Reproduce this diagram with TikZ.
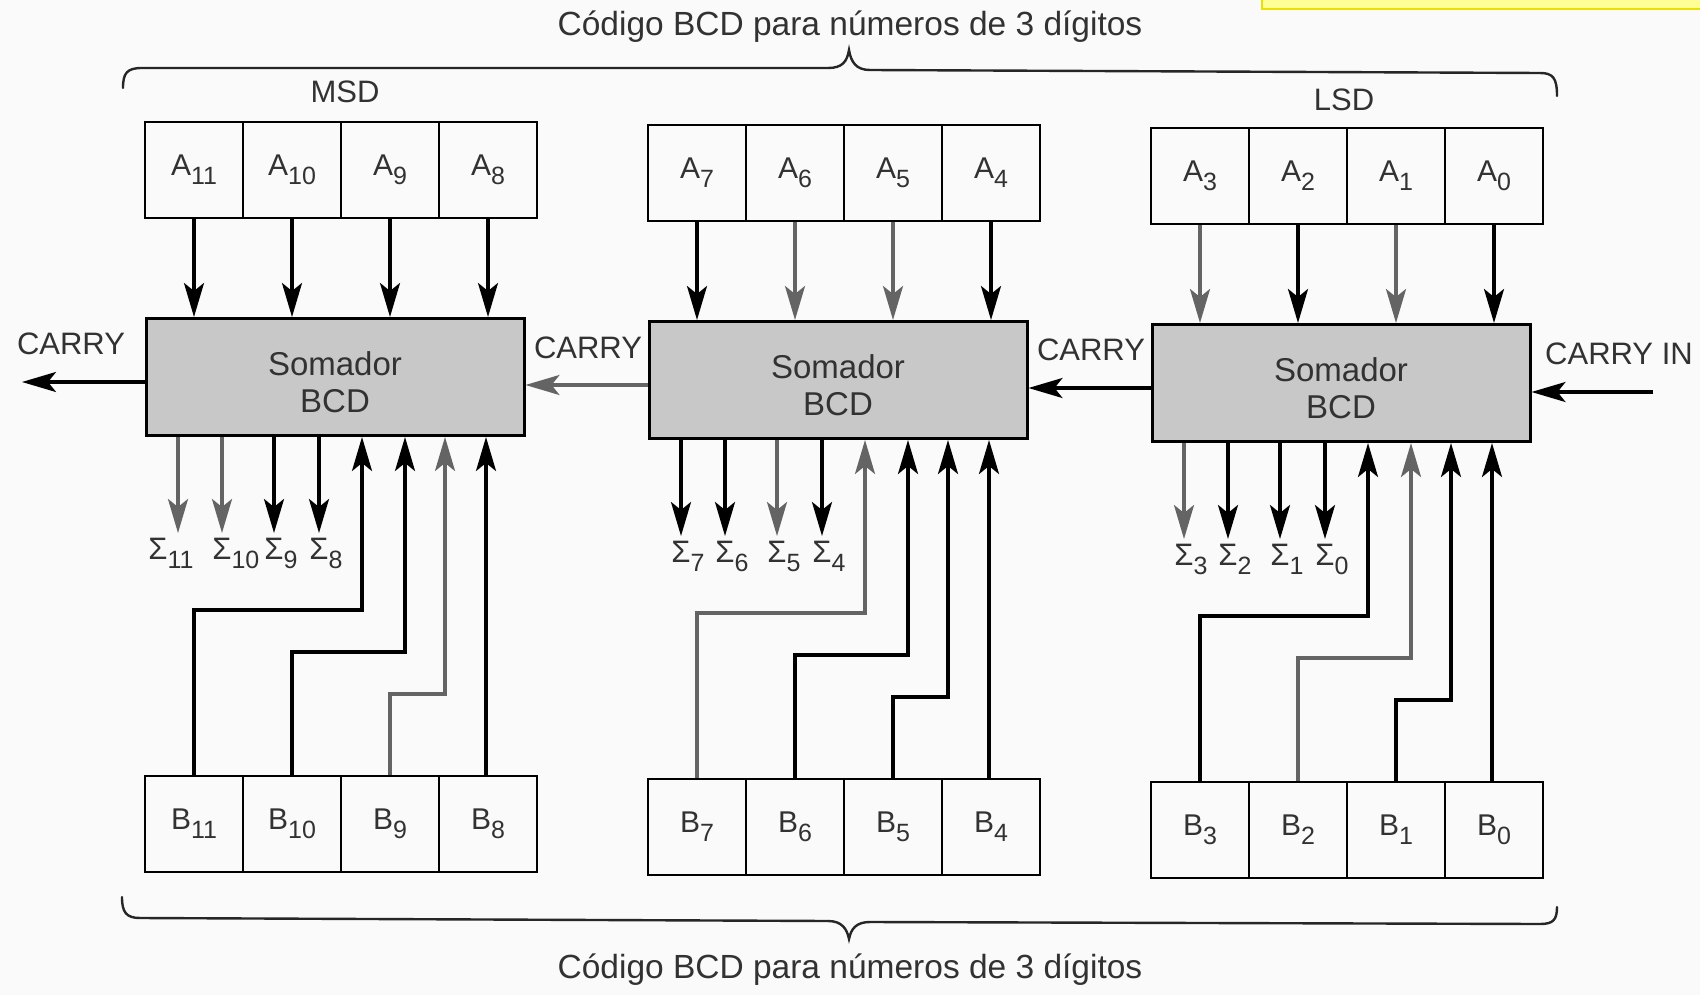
\documentclass[tikz,border=0pt]{standalone}
\usepackage{fontspec}
\setmainfont{Liberation Sans}
\usetikzlibrary{arrows.meta}
\definecolor{bg}{RGB}{250,250,250}
\definecolor{txt}{RGB}{50,50,50}
\definecolor{addfill}{RGB}{200,200,200}
\definecolor{garr}{RGB}{100,100,100}
\definecolor{ylw}{RGB}{255,255,150}
\definecolor{ylwb}{RGB}{235,225,0}
\newcommand\subs[1]{\raisebox{-0.3em}{\fontsize{25}{25}\selectfont #1}}
\begin{document}
\begin{tikzpicture}[x=1pt,y=-1pt,
  cell/.style={draw=black,line width=2.8pt,minimum width=98pt,minimum height=96pt,inner sep=0pt,font=\fontsize{30}{30}\selectfont,text=txt},
  adder/.style={draw=black,line width=3pt,fill=addfill,minimum width=378pt,minimum height=117pt,inner sep=0pt},
  addtext/.style={align=center,inner sep=0pt,font=\fontsize{33}{37}\selectfont,text=txt},
  wire/.style={line width=3.2pt},
  arr/.style={wire,-{Stealth[length=34pt,width=20pt,inset=8pt]}},
  lbl/.style={inner sep=0pt,text=txt,font=\fontsize{31}{31}\selectfont},
  ttl/.style={inner sep=0pt,text=txt,font=\fontsize{33.5}{33.5}\selectfont},
  brace/.style={line width=2.4pt,draw=black!85,line cap=round}
]
\useasboundingbox (0,0) rectangle (1700,995);
\fill[bg] (0,0) rectangle (1700,995);
\fill[ylw,draw=ylwb,line width=2pt] (1262,-3) rectangle (1703,9);

\foreach \k/\xo/\dy/\ia/\ib/\ic/\id/\ca/\cb/\cc/\cd/\sa/\sb/\sc/\sd/\ba/\bb/\bc/\bd/\xs in {
 M/145/0/11/10/9/8/black/black/black/black/garr/garr/black/black/black/black/garr/black/-20,
 D/648/3/7/6/5/4/black/garr/garr/black/black/black/garr/black/garr/black/black/black/0,
 L/1151/6/3/2/1/0/garr/black/garr/black/garr/black/black/black/black/garr/black/black/0}
{
 \node[cell] (\k-A1) at (\xo+49,170+\dy) {A\subs{\ia}};
 \node[cell] (\k-A2) at (\xo+147,170+\dy) {A\subs{\ib}};
 \node[cell] (\k-A3) at (\xo+245,170+\dy) {A\subs{\ic}};
 \node[cell] (\k-A4) at (\xo+343,170+\dy) {A\subs{\id}};
 \node[cell] (\k-B1) at (\xo+49,824+\dy) {B\subs{\ia}};
 \node[cell] (\k-B2) at (\xo+147,824+\dy) {B\subs{\ib}};
 \node[cell] (\k-B3) at (\xo+245,824+\dy) {B\subs{\ic}};
 \node[cell] (\k-B4) at (\xo+343,824+\dy) {B\subs{\id}};
 \node[adder] (\k-S) at (\xo+190,377+\dy) {};
 \node[addtext] (\k-T) at (\xo+190,382+\dy) {Somador\\BCD};
 % A inputs
 \draw[arr,draw=\ca] (\k-A1.south) -- (\k-A1.south |- \k-S.north);
 \draw[arr,draw=\cb] (\k-A2.south) -- (\k-A2.south |- \k-S.north);
 \draw[arr,draw=\cc] (\k-A3.south) -- (\k-A3.south |- \k-S.north);
 \draw[arr,draw=\cd] (\k-A4.south) -- (\k-A4.south |- \k-S.north);
 % sum outputs
 \coordinate (\k-s1) at (\xo+33,533+\dy);
 \coordinate (\k-s2) at (\xo+77,533+\dy);
 \coordinate (\k-s3) at (\xo+129,533+\dy);
 \coordinate (\k-s4) at (\xo+174,533+\dy);
 \draw[arr,draw=\sa] (\k-s1 |- \k-S.south) -- (\k-s1);
 \draw[arr,draw=\sb] (\k-s2 |- \k-S.south) -- (\k-s2);
 \draw[arr,draw=\sc] (\k-s3 |- \k-S.south) -- (\k-s3);
 \draw[arr,draw=\sd] (\k-s4 |- \k-S.south) -- (\k-s4);
 \node[lbl,anchor=north] (\k-L1) at ([xshift=\xs pt,yshift=-5pt]\k-s1) {Σ\rlap{\subs{\ia}}};
 \node[lbl,anchor=north] (\k-L2) at ([yshift=-5pt]\k-s2) {Σ\rlap{\subs{\ib}}};
 \node[lbl,anchor=north] (\k-L3) at ([yshift=-5pt]\k-s3) {Σ\rlap{\subs{\ic}}};
 \node[lbl,anchor=north] (\k-L4) at ([yshift=-5pt]\k-s4) {Σ\rlap{\subs{\id}}};
 % B inputs
 \coordinate (\k-r1) at (\xo+217,610+\dy);
 \coordinate (\k-r2) at (\xo+260,652+\dy);
 \coordinate (\k-r3) at (\xo+300,694+\dy);
 \draw[arr,draw=\ba] (\k-B1.north) -- (\k-B1.north |- \k-r1) -- (\k-r1) -- (\k-r1 |- \k-S.south);
 \draw[arr,draw=\bb] (\k-B2.north) -- (\k-B2.north |- \k-r2) -- (\k-r2) -- (\k-r2 |- \k-S.south);
 \draw[arr,draw=\bc] (\k-B3.north) -- (\k-B3.north |- \k-r3) -- (\k-r3) -- (\k-r3 |- \k-S.south);
 \draw[arr,draw=\bd] ([xshift=-2pt]\k-B4.north) -- ([xshift=-2pt]\k-B4.north |- \k-S.south);
}

% carries
\coordinate (cout) at (22,382);
\coordinate (cin) at (1653,392);
\draw[arr] ([yshift=-5pt]M-S.west) -- (cout);
\draw[arr,draw=garr] ([yshift=-5pt]D-S.west) -- ([yshift=-5pt]D-S.west -| M-S.east);
\draw[arr] ([yshift=-5pt]L-S.west) -- ([yshift=-5pt]L-S.west -| D-S.east);
\draw[arr] (cin) -- (cin -| L-S.east);
\node[lbl] (c0) at (71,344) {CARRY};
\node[lbl] (c1) at (588,348) {CARRY};
\node[lbl] (c2) at (1091,350) {CARRY};
\node[lbl] (c3) at (1619,354) {CARRY IN};
\node[lbl] (msd) at (345,92) {MSD};
\node[lbl] (lsd) at (1344,100) {LSD};

% braces
\draw[brace] (123,88) .. controls (123,73) and (127,68) .. (142,68) -- (828,68) .. controls (842,68) and (847,62) .. (849,50) .. controls (851,62) and (856,70) .. (870,70) -- (1540,73) .. controls (1553,73) and (1557,78) .. (1557,96);
\draw[brace] (122,897) .. controls (122,912) and (126,918) .. (140,918) -- (828,921) .. controls (842,921) and (847,929) .. (849,939) .. controls (851,929) and (856,922) .. (870,922) -- (1540,924) .. controls (1553,924) and (1557,920) .. (1557,907);
\node[ttl] (t1) at (850,27) {Código BCD para números de 3 dígitos};
\node[ttl] (t2) at (850,970) {Código BCD para números de 3 dígitos};
\end{tikzpicture}
\end{document}
